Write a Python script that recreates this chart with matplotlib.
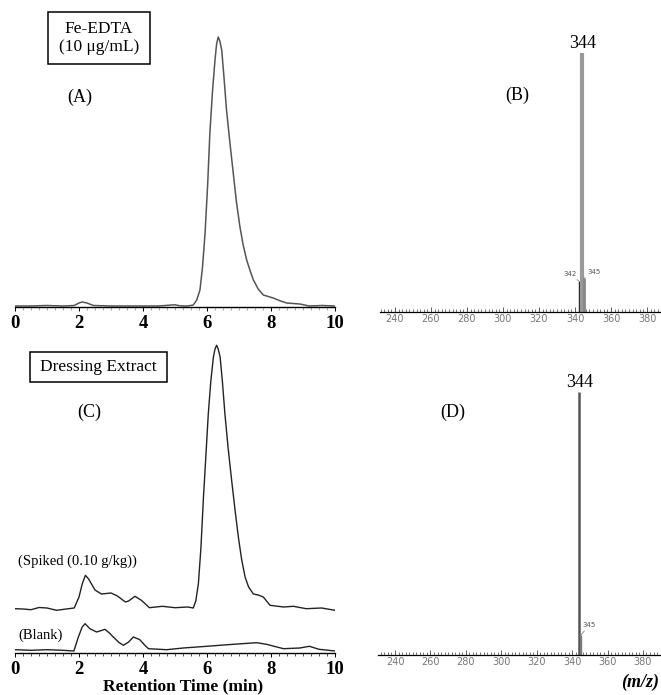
import matplotlib
matplotlib.use("Agg")
import matplotlib.pyplot as plt
from matplotlib.ticker import MultipleLocator, FixedLocator
from matplotlib.patches import Rectangle

# ---------------- data ----------------
# Panel A: Fe-EDTA standard chromatogram (time in min, intensity in arbitrary units)
a_time = [0.0, 0.5, 1.0, 1.5, 1.85, 2.0, 2.1, 2.25, 2.45, 3.0, 3.5, 4.0, 4.5, 4.9, 5.0,
          5.15, 5.4, 5.57, 5.68, 5.78, 5.86, 5.94, 6.02, 6.09, 6.17, 6.25, 6.3, 6.35,
          6.4, 6.46, 6.53, 6.61, 6.72, 6.82, 6.92, 7.03, 7.13, 7.24, 7.35, 7.45, 7.6,
          7.76, 8.07, 8.3, 8.49, 8.9, 9.2, 9.6, 10.0]
a_int = [1, 1, 1.5, 1, 1.5, 4, 5, 4, 1.5, 1, 1, 1, 1, 2, 2.2,
         1.2, 1, 2, 7, 17, 40, 74, 122, 174, 215, 247, 263, 270,
         266, 257, 230, 197, 163, 134, 105, 80, 62, 47, 36, 27, 18,
         12, 9, 6, 4, 3, 1, 1.5, 1]

# Panel C: dressing extract chromatograms
c_spiked_time = [0.0, 0.25, 0.5, 0.75, 1.0, 1.3, 1.6, 1.85, 2.0, 2.1, 2.2, 2.3, 2.5, 2.7,
                 3.0, 3.2, 3.45, 3.55, 3.75, 3.95, 4.2, 4.6, 5.0, 5.4, 5.57, 5.65, 5.73,
                 5.81, 5.89, 5.97, 6.04, 6.12, 6.2, 6.25, 6.3, 6.35, 6.41, 6.48, 6.56,
                 6.66, 6.77, 6.88, 6.98, 7.08, 7.19, 7.3, 7.45, 7.6, 7.76, 7.97, 8.39,
                 8.7, 9.1, 9.58, 10.0]
c_spiked_int = [44.3, 44, 43.3, 45.5, 45, 42.7, 44, 45, 56, 69, 77.7, 74, 63, 59,
                60, 57, 51, 52, 56.7, 52.7, 45.3, 46.7, 45.3, 46, 45, 52, 69,
                105, 156, 200, 239, 272, 296, 304, 307.7, 304, 296, 272, 239,
                205, 172.7, 142, 116, 94, 76, 66, 59, 58, 56, 47.7, 46,
                46.7, 44.3, 45, 42.7]
c_blank_time = [0.0, 0.5, 1.0, 1.5, 1.84, 1.98, 2.1, 2.19, 2.34, 2.55, 2.7, 2.81, 2.95,
                3.07, 3.25, 3.39, 3.55, 3.7, 3.9, 4.05, 4.17, 4.74, 5.26, 5.99, 6.82,
                7.55, 7.86, 8.39, 8.9, 9.2, 9.5, 10.0]
c_blank_int = [3.3, 2.7, 3.3, 2.7, 2, 16, 26, 29.3, 24.3, 21, 22.5, 23.7, 20,
               16, 10.5, 7.7, 11, 16, 13.3, 8, 4.3, 3.3, 5, 6.7, 8.7,
               10.3, 8.7, 4.3, 5, 6.7, 3.7, 2]

# Panel B / D: mass spectra (m/z, relative intensity %)
b_mz = [342, 344, 345]
b_int = [12, 100, 13]
d_mz = [344, 345]
d_int = [100, 7.6]

chrom_ticks = [0, 2, 4, 6, 8, 10]
ms_ticks = [240, 260, 280, 300, 320, 340, 360, 380]

# ---------------- figure ----------------
W, H = 661, 695
fig = plt.figure(figsize=(W / 100, H / 100), dpi=100)
SERIF = ["Liberation Serif", "DejaVu Serif"]


def axes_px(left, right, bottom, top):
    return fig.add_axes([left / W, 1 - bottom / H, (right - left) / W, (bottom - top) / H])


def fpx(x, y):
    return x / W, 1 - y / H


def style_chrom(ax, ymax, minor_color):
    ax.set_xlim(0, 10)
    ax.set_ylim(0, ymax)
    for s in ["top", "right", "left"]:
        ax.spines[s].set_visible(False)
    ax.spines["bottom"].set_linewidth(1.0)
    ax.set_yticks([])
    ax.xaxis.set_major_locator(FixedLocator(chrom_ticks))
    ax.xaxis.set_minor_locator(MultipleLocator(0.25))
    ax.tick_params(axis="x", which="major", direction="out", length=3, width=0.7, pad=3)
    ax.tick_params(axis="x", which="minor", direction="out", length=2.5, width=0.6,
                   color=minor_color)
    ax.set_xticklabels([str(t) for t in chrom_ticks], fontfamily=SERIF,
                       fontweight="bold", fontsize=13.5)


def style_ms(ax, xl, xr, ymax):
    ax.set_xlim(xl, xr)
    ax.set_ylim(0, ymax)
    for s in ["top", "right", "left"]:
        ax.spines[s].set_visible(False)
    ax.spines["bottom"].set_linewidth(0.9)
    ax.set_yticks([])
    ax.xaxis.set_major_locator(FixedLocator(ms_ticks))
    ax.xaxis.set_minor_locator(MultipleLocator(2))
    ax.tick_params(axis="x", which="major", direction="in", length=3.5, width=0.6,
                   pad=1.5, labelsize=7, labelcolor="#777777", color="#444444")
    ax.tick_params(axis="x", which="minor", direction="in", length=2, width=0.5,
                   color="#444444")
    ax.set_xticklabels([str(t) for t in ms_ticks], fontfamily="DejaVu Sans")


# Panel A
axA = axes_px(15, 335, 307, 20)
axA.plot(a_time, a_int, color="#555555", lw=1.1)
style_chrom(axA, 287, "#999999")

# Panel C
axC = axes_px(15, 335, 653, 340)
axC.plot(c_spiked_time, c_spiked_int, color="#222222", lw=1.0)
axC.plot(c_blank_time, c_blank_int, color="#222222", lw=1.0)
style_chrom(axC, 313, "#333333")

# Panel B
axB = axes_px(380, 660, 312, 30)
b_colors = ["#222222", "#999999", "#888888"]
b_widths = [1.0, 3.0, 2.0]
for m, v, c, w in zip(b_mz, b_int, b_colors, b_widths):
    axB.vlines(m, 0, v, color=c, lw=w)
style_ms(axB, 231.7, 387.2, 108.9)
axB.annotate(str(b_mz[1]), xy=(b_mz[1], b_int[1]), xytext=(0, 0.5),
             textcoords="offset points", ha="center", va="bottom",
             fontfamily=SERIF, fontsize=13)
axB.annotate(str(b_mz[0]), xy=(b_mz[0], b_int[0]), xytext=(-6, 3),
             textcoords="offset points", ha="center", va="bottom",
             fontsize=5, color="#555555",
             arrowprops=dict(arrowstyle="-", color="#666666", lw=0.5,
                             shrinkA=0, shrinkB=0))
axB.annotate(str(b_mz[2]), xy=(b_mz[2], b_int[2]), xytext=(7, 2.5),
             textcoords="offset points", ha="center", va="bottom",
             fontsize=5, color="#555555",
             arrowprops=dict(arrowstyle="-", color="#666666", lw=0.5,
                             shrinkA=0, shrinkB=0))

# Panel D
axD = axes_px(378, 661, 655, 370)
d_colors = ["#555555", "#777777"]
d_widths = [1.8, 1.0]
for m, v, c, w in zip(d_mz, d_int, d_colors, d_widths):
    axD.vlines(m, 0, v, color=c, lw=w)
style_ms(axD, 230.4, 390.2, 108.4)
axD.annotate(str(d_mz[0]), xy=(d_mz[0], d_int[0]), xytext=(0, 0.5),
             textcoords="offset points", ha="center", va="bottom",
             fontfamily=SERIF, fontsize=13)
axD.annotate(str(d_mz[1]), xy=(d_mz[1], d_int[1]), xytext=(6, 5),
             textcoords="offset points", ha="center", va="bottom",
             fontsize=5, color="#555555",
             arrowprops=dict(arrowstyle="-", color="#666666", lw=0.5,
                             shrinkA=0, shrinkB=0))

# ---------------- text / boxes ----------------
def ftext(x, y, s, **kw):
    kw.setdefault("fontfamily", SERIF)
    kw.setdefault("ha", "center")
    fig.text(*fpx(x, y), s, va="center", **kw)


ftext(80, 97, "(A)", fontsize=13)
ftext(517, 95, "(B)", fontsize=13)
ftext(89, 412, "(C)", fontsize=13)
ftext(453, 412, "(D)", fontsize=13)

# Boxes
for (l, t, r, b) in [(48, 12, 150, 64), (30, 352, 167, 382)]:
    x0, y0 = fpx(l, b)
    fig.patches.append(Rectangle((x0, y0), (r - l) / W, (b - t) / H,
                                 transform=fig.transFigure, fill=False,
                                 edgecolor="black", lw=1.1))
ftext(99, 29, "Fe-EDTA", fontsize=12.5)
ftext(99, 47, "(10 μg/mL)", fontsize=12.5)
ftext(98, 367, "Dressing Extract", fontsize=12.5)

ftext(18, 561, "(Spiked (0.10 g/kg))", ha="left", fontsize=10.5)
ftext(18, 635, "(Blank)", ha="left", fontsize=10.5)

ftext(183, 686, "Retention Time (min)", fontsize=12.5, fontweight="bold")
ftext(659, 682, "(m/z)", ha="right", fontsize=13, fontweight="bold", fontstyle="italic")

fig.savefig("out.png", dpi=100)
